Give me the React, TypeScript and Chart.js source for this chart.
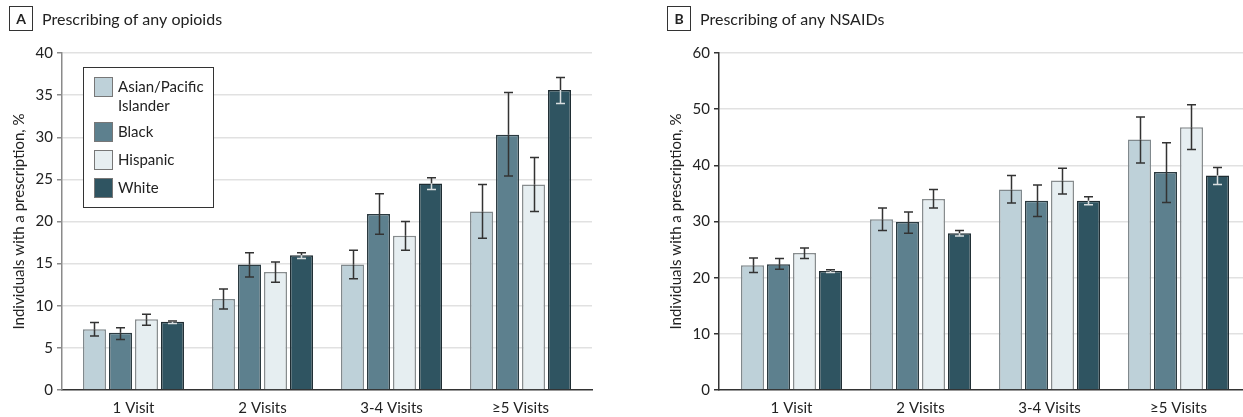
import React, { useEffect, useRef } from 'react';
import { Chart, registerables } from 'chart.js';

Chart.register(...registerables);

const FONT = 'Lato, "Noto Sans", sans-serif';

// Categories and series
const visitCategories = ['1 Visit', '2 Visits', '3-4 Visits', '≥5 Visits'];
const groupNames = ['Asian/Pacific Islander', 'Black', 'Hispanic', 'White'];
const groupFill = ['#bed1d9', '#5d808e', '#e6eef1', '#2f5461'];
const groupBorder = ['#80898d', '#2b3a40', '#878c8e', '#1f2d33'];

// Panel A: Prescribing of any opioids (%)
const opioidAsian = [7.2, 10.8, 14.9, 21.2];
const opioidAsianLow = [6.4, 9.6, 13.2, 18.0];
const opioidAsianHigh = [8.0, 12.0, 16.6, 24.4];
const opioidBlack = [6.8, 14.9, 20.9, 30.3];
const opioidBlackLow = [6.0, 13.4, 18.5, 25.4];
const opioidBlackHigh = [7.4, 16.3, 23.3, 35.3];
const opioidHispanic = [8.4, 14.0, 18.3, 24.4];
const opioidHispanicLow = [7.7, 12.8, 16.6, 21.2];
const opioidHispanicHigh = [9.0, 15.2, 20.0, 27.6];
const opioidWhite = [8.1, 16.0, 24.5, 35.6];
const opioidWhiteLow = [7.9, 15.6, 23.8, 34.0];
const opioidWhiteHigh = [8.2, 16.3, 25.2, 37.1];
const opioidTicks = [0, 5, 10, 15, 20, 25, 30, 35, 40];

// Panel B: Prescribing of any NSAIDs (%)
const nsaidAsian = [22.2, 30.4, 35.7, 44.6];
const nsaidAsianLow = [20.9, 28.4, 33.3, 40.4];
const nsaidAsianHigh = [23.5, 32.4, 38.2, 48.6];
const nsaidBlack = [22.4, 29.9, 33.7, 38.8];
const nsaidBlackLow = [21.5, 27.9, 30.9, 33.4];
const nsaidBlackHigh = [23.4, 31.7, 36.5, 44.0];
const nsaidHispanic = [24.4, 34.0, 37.3, 46.8];
const nsaidHispanicLow = [23.4, 32.4, 34.9, 42.8];
const nsaidHispanicHigh = [25.3, 35.7, 39.5, 50.8];
const nsaidWhite = [21.2, 27.9, 33.7, 38.2];
const nsaidWhiteLow = [20.9, 27.4, 33.0, 36.6];
const nsaidWhiteHigh = [21.4, 28.4, 34.4, 39.6];
const nsaidTicks = [0, 10, 20, 30, 40, 50, 60];

const yTitle = 'Individuals with a prescription, %';

type Series = { values: number[]; low: number[]; high: number[] };

const errorBarPlugin = {
  id: 'errorBars',
  afterDatasetsDraw(chart: any) {
    const { ctx } = chart;
    const yScale = chart.scales.y;
    chart.data.datasets.forEach((ds: any, di: number) => {
      const meta = chart.getDatasetMeta(di);
      meta.data.forEach((bar: any, i: number) => {
        const x = Math.round(bar.x) + 0.5;
        const yTop = yScale.getPixelForValue(ds.errHigh[i]);
        const yBot = yScale.getPixelForValue(ds.errLow[i]);
        const barTop = bar.y;
        const half = 4.5;
        ctx.save();
        ctx.lineWidth = 1.5;
        const dark = '#333333';
        const light = ds.errSplit ? '#d9dee0' : dark;
        ctx.strokeStyle = dark;
        ctx.beginPath();
        ctx.moveTo(x, yTop);
        ctx.lineTo(x, Math.min(barTop, yBot));
        ctx.moveTo(x - half, yTop);
        ctx.lineTo(x + half, yTop);
        ctx.stroke();
        ctx.strokeStyle = light;
        ctx.beginPath();
        if (yBot > barTop) {
          ctx.moveTo(x, barTop);
          ctx.lineTo(x, yBot);
        }
        ctx.moveTo(x - half, yBot);
        ctx.lineTo(x + half, yBot);
        ctx.stroke();
        ctx.restore();
      });
    });
  },
};

function makeTitlePlugin(letter: string, title: string, boxX: number) {
  return {
    id: 'panelTitle',
    afterDraw(chart: any) {
      const { ctx } = chart;
      ctx.save();
      ctx.strokeStyle = '#333';
      ctx.lineWidth = 1;
      ctx.strokeRect(boxX + 0.5, 6.5, 23, 24);
      ctx.fillStyle = '#222';
      ctx.font = `bold 14px ${FONT}`;
      ctx.textAlign = 'center';
      ctx.textBaseline = 'alphabetic';
      ctx.fillText(letter, boxX + 12, 24);
      ctx.font = `16px ${FONT}`;
      ctx.textAlign = 'left';
      ctx.fillText(title, boxX + 33, 25);
      ctx.restore();
    },
  };
}

function wrapText(ctx: CanvasRenderingContext2D, text: string, maxW: number): string[] {
  const words = text.split(' ');
  const lines: string[] = [];
  let cur = '';
  words.forEach((w) => {
    const test = cur ? cur + ' ' + w : w;
    if (ctx.measureText(test).width > maxW && cur) {
      lines.push(cur);
      cur = w;
    } else {
      cur = test;
    }
  });
  if (cur) lines.push(cur);
  return lines;
}

const legendPlugin = {
  id: 'boxLegend',
  afterDraw(chart: any) {
    const { ctx } = chart;
    ctx.save();
    ctx.fillStyle = '#ffffff';
    ctx.fillRect(83, 67, 130, 140);
    ctx.strokeStyle = '#333';
    ctx.lineWidth = 1;
    ctx.strokeRect(83.5, 67.5, 130, 140);
    ctx.font = `15px ${FONT}`;
    ctx.textBaseline = 'middle';
    ctx.textAlign = 'left';
    let top = 77;
    chart.data.datasets.forEach((ds: any) => {
      ctx.fillStyle = ds.backgroundColor;
      ctx.fillRect(94, top, 19, 20);
      ctx.strokeStyle = '#777';
      ctx.lineWidth = 1;
      ctx.strokeRect(94.5, top + 0.5, 18, 19);
      const lines = wrapText(ctx, ds.label, 92);
      ctx.fillStyle = '#222';
      lines.forEach((ln, k) => {
        ctx.fillText(ln, 118, top + 10 + k * 19.5);
      });
      top += 28 + (lines.length - 1) * 17;
    });
    ctx.restore();
  },
};

type PanelProps = {
  left: number;
  width: number;
  letter: string;
  title: string;
  series: Series[];
  yTicks: number[];
  xMin: number;
  xMax: number;
  padLeft: number;
  padRight: number;
  axisColor: string;
  legend: boolean;
};

function Panel(p: PanelProps) {
  const ref = useRef<HTMLCanvasElement>(null);
  useEffect(() => {
    const plugins: any[] = [errorBarPlugin, makeTitlePlugin(p.letter, p.title, p.letter === 'A' ? 9 : 27)];
    if (p.legend) plugins.push(legendPlugin);
    const chart = new Chart(ref.current as HTMLCanvasElement, {
      type: 'bar',
      data: {
        datasets: p.series.map((s, k) => ({
          label: groupNames[k],
          data: s.values.map((v, i) => ({ x: i, y: v })),
          backgroundColor: groupFill[k],
          borderColor: groupBorder[k],
          borderWidth: 1.5,
          categoryPercentage: 0.806,
          barPercentage: 0.885,
          errLow: s.low,
          errHigh: s.high,
          errSplit: k === 3,
        })) as any,
      },
      options: {
        responsive: false,
        animation: false,
        devicePixelRatio: 1,
        layout: { padding: { left: p.padLeft, right: p.padRight, top: 53, bottom: 0 } },
        plugins: {
          legend: { display: false },
          tooltip: { enabled: false },
          title: { display: false },
        },
        scales: {
          x: {
            type: 'linear',
            min: p.xMin,
            max: p.xMax,
            offset: false,
            grid: { display: false },
            border: { display: true, color: '#333', width: 1.5 },
            afterBuildTicks: (s: any) => {
              s.ticks = visitCategories.map((_, i) => ({ value: i }));
            },
            afterFit: (s: any) => {
              s.height = 27;
            },
            ticks: {
              autoSkip: false,
              maxRotation: 0,
              padding: 1,
              color: '#222',
              font: { family: FONT, size: 15 },
              callback: (v: any) => visitCategories[v as number] ?? '',
            },
          },
          y: {
            type: 'linear',
            min: 0,
            max: p.yTicks[p.yTicks.length - 1],
            afterBuildTicks: (s: any) => {
              s.ticks = p.yTicks.map((v) => ({ value: v }));
            },
            afterFit: (s: any) => {
              s.width = 62;
            },
            grid: {
              color: (c: any) => (c.tick && c.tick.value === 0 ? 'rgba(0,0,0,0)' : '#e1e1e1'),
              lineWidth: 1.5,
              tickColor: p.axisColor,
              tickLength: 5,
            },
            border: { display: true, color: p.axisColor, width: 1.5 },
            ticks: {
              padding: 4,
              color: '#222',
              font: { family: FONT, size: 15 },
            },
            title: {
              display: true,
              text: yTitle,
              color: '#222',
              font: { family: FONT, size: 15 },
              padding: { top: 10, bottom: 0 },
            },
          },
        } as any,
      },
      plugins,
    });
    return () => chart.destroy();
  }, []);
  return (
    <canvas
      ref={ref}
      width={p.width}
      height={417}
      style={{ position: 'absolute', left: p.left, top: 0, width: p.width, height: 417 }}
    />
  );
}

export default function App() {
  const seriesA: Series[] = [
    { values: opioidAsian, low: opioidAsianLow, high: opioidAsianHigh },
    { values: opioidBlack, low: opioidBlackLow, high: opioidBlackHigh },
    { values: opioidHispanic, low: opioidHispanicLow, high: opioidHispanicHigh },
    { values: opioidWhite, low: opioidWhiteLow, high: opioidWhiteHigh },
  ];
  const seriesB: Series[] = [
    { values: nsaidAsian, low: nsaidAsianLow, high: nsaidAsianHigh },
    { values: nsaidBlack, low: nsaidBlackLow, high: nsaidBlackHigh },
    { values: nsaidHispanic, low: nsaidHispanicLow, high: nsaidHispanicHigh },
    { values: nsaidWhite, low: nsaidWhiteLow, high: nsaidWhiteHigh },
  ];
  return (
    <div
      style={{
        position: 'absolute',
        left: 0,
        top: 0,
        width: 1243,
        height: 417,
        overflow: 'hidden',
        background: '#fff',
      }}
    >
      <Panel
        left={0}
        width={620}
        letter="A"
        title="Prescribing of any opioids"
        series={seriesA}
        yTicks={opioidTicks}
        xMin={-0.554}
        xMax={3.554}
        padLeft={0}
        padRight={28}
        axisColor="#8a8a8a"
        legend={true}
      />
      <Panel
        left={640}
        width={603}
        letter="B"
        title="Prescribing of any NSAIDs"
        series={seriesB}
        yTicks={nsaidTicks}
        xMin={-0.562}
        xMax={3.5}
        padLeft={17}
        padRight={0}
        axisColor="#333333"
        legend={false}
      />
    </div>
  );
}
